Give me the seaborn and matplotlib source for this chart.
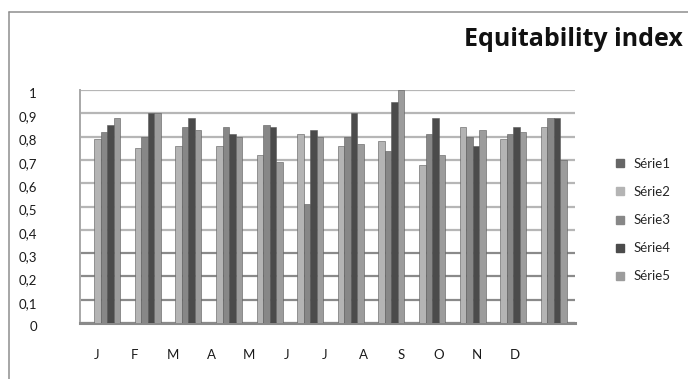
import numpy as np
import pandas as pd
import matplotlib
matplotlib.use("Agg")
import matplotlib.pyplot as plt
import matplotlib.transforms as mtransforms
from matplotlib.lines import Line2D
import seaborn as sns

months = ["J", "F", "M", "A", "M", "J", "J", "A", "S", "O", "N", "D"]
series_names = ["Série1", "Série2", "Série3", "Série4", "Série5"]
serie1 = [np.nan, np.nan, np.nan, np.nan, np.nan, np.nan,
          np.nan, np.nan, np.nan, np.nan, np.nan, np.nan]
serie2 = [0.79, 0.75, 0.76, 0.76, 0.72, 0.81, 0.76, 0.78, 0.68, 0.84, 0.79, 0.84]
serie3 = [0.82, 0.80, 0.84, 0.84, 0.85, 0.51, 0.80, 0.74, 0.81, 0.80, 0.81, 0.88]
serie4 = [0.85, 0.90, 0.88, 0.81, 0.84, 0.83, 0.90, 0.95, 0.88, 0.76, 0.84, 0.88]
serie5 = [0.88, 0.90, 0.83, 0.80, 0.69, 0.80, 0.77, 1.00, 0.72, 0.83, 0.82, 0.70]
yticks = [0, 0.1, 0.2, 0.3, 0.4, 0.5, 0.6, 0.7, 0.8, 0.9, 1]
ytick_labels = ["0", "0,1", "0,2", "0,3", "0,4", "0,5", "0,6", "0,7", "0,8", "0,9", "1"]

colors = ["#666666", "#b4b4b4", "#878787", "#4b4b4b", "#9c9c9c"]

rows = []
for name, vals in zip(series_names, [serie1, serie2, serie3, serie4, serie5]):
    for i, v in enumerate(vals):
        rows.append({"mois": i + 1, "serie": name, "valeur": v})
df = pd.DataFrame(rows)

sns.set_theme(style="white")
plt.rcParams["font.family"] = ["Lato", "DejaVu Sans"]

W, H = 688, 379
fig = plt.figure(figsize=(W / 100, H / 100), dpi=100)

def px_box(x0, y0, x1, y1):
    return [x0 / W, 1 - y1 / H, (x1 - x0) / W, (y1 - y0) / H]

# outer chart frame (left and top edges; the rest runs off the page)
fig.add_artist(Line2D([8.5 / W, 8.5 / W], [0, 1 - 11.5 / H], transform=fig.transFigure,
                      color="#8e8e8e", linewidth=1.1))
fig.add_artist(Line2D([8.5 / W, 1], [1 - 11.5 / H, 1 - 11.5 / H], transform=fig.transFigure,
                      color="#8e8e8e", linewidth=1.1))

ax = fig.add_axes(px_box(80, 90, 575, 323))
sns.barplot(data=df, x="mois", y="valeur", hue="serie", hue_order=series_names,
            palette=colors, width=0.8, dodge=True, legend=False, ax=ax,
            edgecolor="#5a5a5a", linewidth=0.4, zorder=3, errorbar=None)

ax.set_xlim((80 - 104) / 40.6, (575 - 104) / 40.6)
ax.set_ylim(0, 1)
ax.set_xticks([])
ax.set_xlabel("")
ax.set_ylabel("")
ax.set_yticks(yticks)
ax.set_yticklabels(ytick_labels)
ax.tick_params(axis="y", length=0, pad=31, labelsize=9.5, labelcolor="#1a1a1a")
offset = mtransforms.ScaledTranslation(0, -3 / 100, fig.dpi_scale_trans)
for lab in ax.get_yticklabels():
    lab.set_transform(lab.get_transform() + offset)

for v in yticks:
    ax.axhline(v, color="#b6b6b6" if v >= 0.35 else "#8a8a8a",
               linewidth=1.6, zorder=1)
for s in ["top", "right"]:
    ax.spines[s].set_visible(False)
ax.spines["left"].set_color("#a8a8a8")
ax.spines["left"].set_linewidth(1.4)
ax.spines["bottom"].set_color("#8a8a8a")
ax.spines["bottom"].set_linewidth(2.2)

# month labels along the front edge of the floor
ax2 = ax.twiny()
ax2.set_xlim((80 - 97) / 38.0, (575 - 97) / 38.0)
ax2.xaxis.set_ticks_position("bottom")
ax2.set_xticks(range(len(months)))
ax2.set_xticklabels(months)
ax2.tick_params(axis="x", length=0, pad=19, labelsize=9.5, labelcolor="#1a1a1a")
for s in ax2.spines.values():
    s.set_visible(False)

fig.text(683 / W, 1 - 40 / H, "Equitability index", ha="right", va="center",
         fontsize=18, fontweight="bold", color="#111111",
         family=["Open Sans", "DejaVu Sans"])

handles = [Line2D([], [], linestyle="none", marker="s", markersize=5.5,
                  markerfacecolor=c, markeredgecolor=c) for c in colors]
fig.legend(handles, series_names, loc="upper left",
           bbox_to_anchor=(615 / W, 1 - 158 / H), frameon=False,
           fontsize=9.5, handlelength=0.7, handletextpad=0.7,
           labelspacing=1.22, borderpad=0, borderaxespad=0)

fig.savefig("out.png", dpi=100)
